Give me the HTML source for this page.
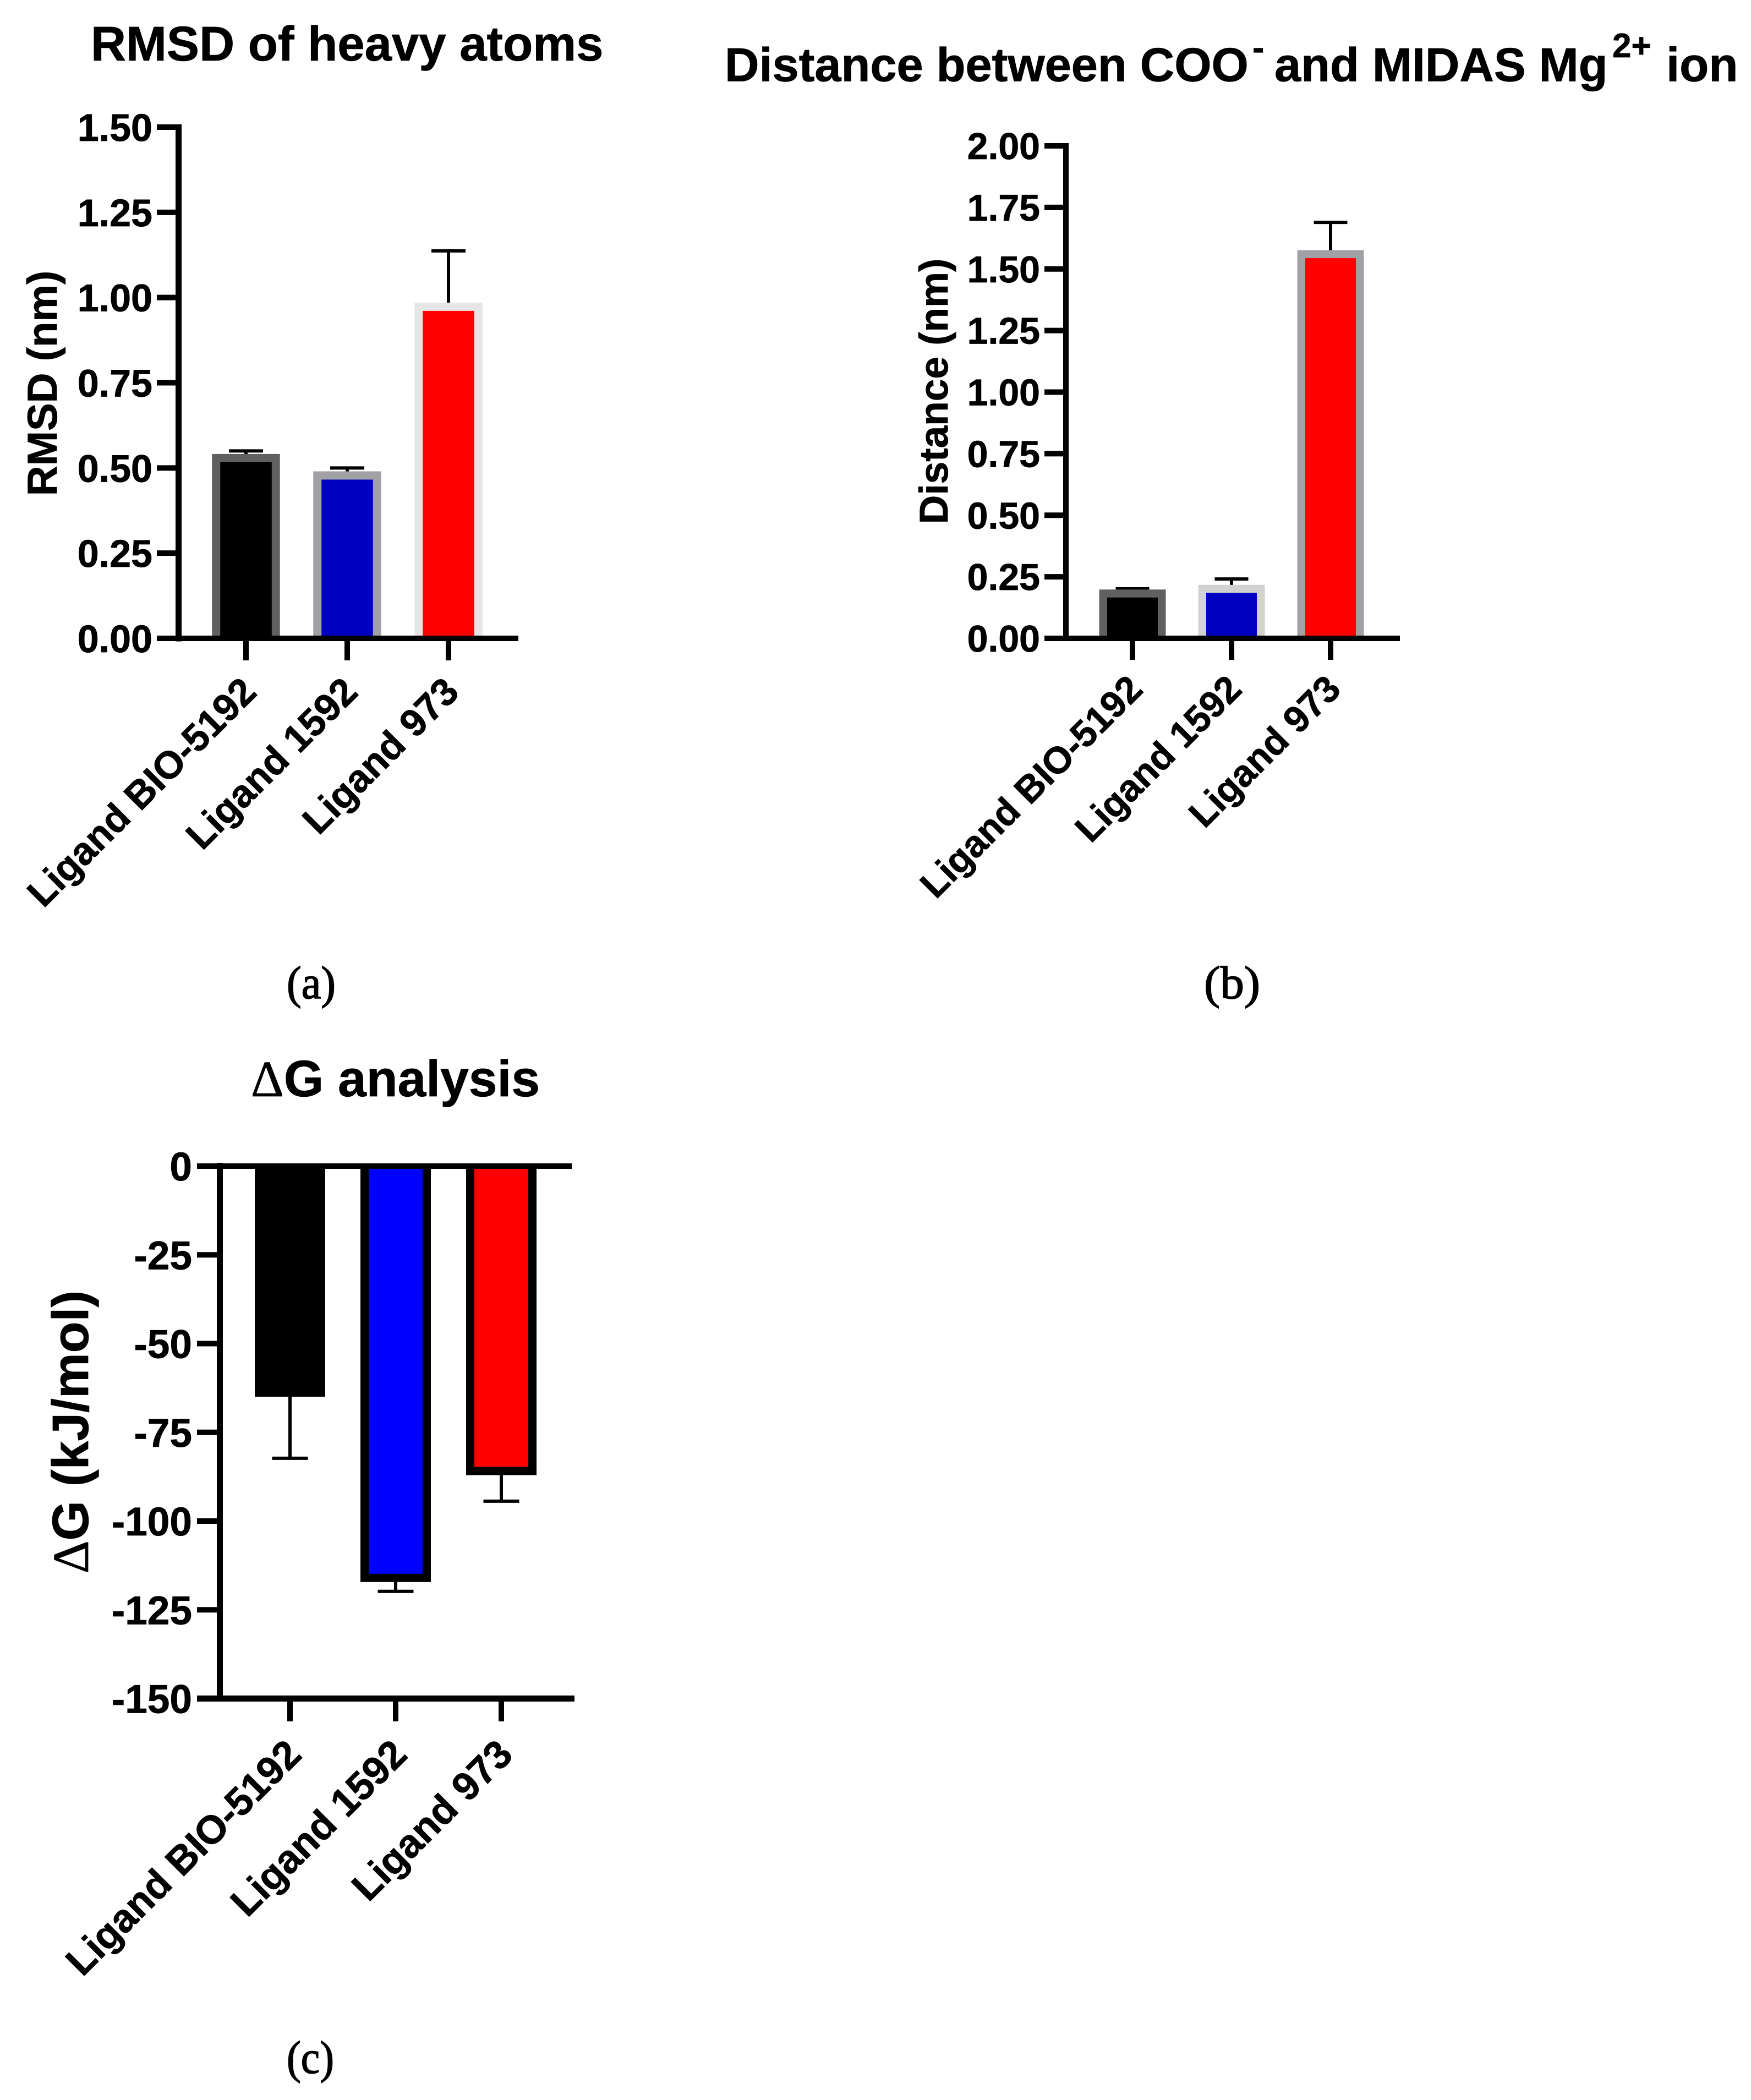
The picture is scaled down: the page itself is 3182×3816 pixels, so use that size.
<!DOCTYPE html>
<html lang="en">
<head>
<meta charset="utf-8">
<title>Ligand analysis bar charts</title>
<style>
  html, body { margin: 0; padding: 0; background: #ffffff; }
  body { width: 3182px; height: 3816px; overflow: hidden; }
  svg { display: block; }
  text { font-family: "Liberation Sans", Arial, sans-serif; font-weight: 700; fill: #000; stroke: #000; stroke-width: 0.8px; text-rendering: geometricPrecision; }
  .caption { font-family: "Liberation Serif", "Times New Roman", serif; font-weight: 400; stroke-width: 1.6px; }
  .delta { font-family: "Liberation Serif", "Times New Roman", serif; font-weight: 400; }
</style>
</head>
<body>
<svg id="figure" xmlns="http://www.w3.org/2000/svg" width="3182" height="3816" viewBox="0 0 3182 3816">
  <rect x="0" y="0" width="3182" height="3816" fill="#ffffff"/>

  <text x="165" y="110" font-size="88.7">RMSD of heavy atoms</text>
  <text x="0" y="0" font-size="76" text-anchor="middle" transform="translate(103 696.5) rotate(-90)">RMSD (nm)</text>
  <text class="caption" x="521" y="1814" font-size="84" textLength="89" lengthAdjust="spacingAndGlyphs">(a)</text>

  <g font-size="87">
    <text x="1317" y="147.5" font-size="86.5">Distance between COO</text>
    <text x="2276" y="108" font-size="64">-</text>
    <text x="2316" y="147.5" font-size="86.5">and MIDAS Mg</text>
    <text x="2930" y="104" font-size="62">2+</text>
    <text x="3028" y="147.5" font-size="87">ion</text>
  </g>
  <text x="0" y="0" font-size="73" text-anchor="middle" transform="translate(1722 711) rotate(-90)">Distance (nm)</text>
  <text class="caption" x="2188" y="1814" font-size="84" textLength="102" lengthAdjust="spacingAndGlyphs">(b)</text>

  <text x="456" y="1992" font-size="93"><tspan class="delta">Δ</tspan>G analysis</text>
  <text x="0" y="0" font-size="93" text-anchor="middle" transform="translate(160 2602) rotate(-90)"><tspan class="delta">Δ</tspan>G (kJ/mol)</text>
  <text class="caption" x="521" y="3767" font-size="84" textLength="86" lengthAdjust="spacingAndGlyphs">(c)</text>

  <g id="chart-a"></g>
  <g id="chart-b"></g>
  <g id="chart-c"></g>
</svg>

<script>
// Shared categories
const categories = ["Ligand BIO-5192", "Ligand 1592", "Ligand 973"];

// Chart (a): RMSD of heavy atoms
const rmsdValues = [0.529, 0.478, 0.973];
const rmsdErrorEnds = [0.550, 0.500, 1.137];
const rmsdTickValues = [0, 0.25, 0.5, 0.75, 1, 1.25, 1.5];
const rmsdTickLabels = ["0.00", "0.25", "0.50", "0.75", "1.00", "1.25", "1.50"];

// Chart (b): Distance between COO- and MIDAS Mg2+ ion
const distanceValues = [0.182, 0.201, 1.560];
const distanceErrorEnds = [0.201, 0.241, 1.689];
const distanceTickValues = [0, 0.25, 0.5, 0.75, 1, 1.25, 1.5, 1.75, 2];
const distanceTickLabels = ["0.00", "0.25", "0.50", "0.75", "1.00", "1.25", "1.50", "1.75", "2.00"];

// Chart (c): Delta G analysis
const deltaGValues = [-63.8, -116, -85.9];
const deltaGErrorEnds = [-82.3, -119.8, -94.4];
const deltaGTickValues = [0, -25, -50, -75, -100, -125, -150];
const deltaGTickLabels = ["0", "-25", "-50", "-75", "-100", "-125", "-150"];

const SVG_NS = "http://www.w3.org/2000/svg";

function make(parent, tag, attrs, text) {
  const el = document.createElementNS(SVG_NS, tag);
  for (const key in attrs) el.setAttribute(key, attrs[key]);
  if (text !== undefined) el.textContent = text;
  parent.appendChild(el);
  return el;
}

function drawChart(root, prefix, layout, values, errorEnds, tickValues, tickLabels) {
  // Axis functions
  const yScale = function (v) {
    return layout.yAtZero + (v / layout.domainSpan) * layout.pixelSpan;
  };
  const xScale = function (i) {
    return layout.xStart + i * layout.xStep;
  };

  // Error bars sit beneath the bars
  values.forEach(function (value, i) {
    const c = xScale(i);
    const stem = make(root, "line", {
      x1: c, x2: c, y1: yScale(value), y2: yScale(errorEnds[i]),
      stroke: "#000", "stroke-width": 6
    });
    
    
    const cap = make(root, "line", {
      x1: c - layout.capWidth / 2, x2: c + layout.capWidth / 2,
      y1: yScale(errorEnds[i]), y2: yScale(errorEnds[i]),
      stroke: "#000", "stroke-width": 6
    });
    
    
  });

  // Bars: open at the baseline so the border does not overshoot the axis
  values.forEach(function (value, i) {
    const c = xScale(i);
    const yValue = yScale(value);
    const yBase = yScale(0);
    const left = c - layout.barWidth / 2;
    const right = c + layout.barWidth / 2;
    const bar = make(root, "path", {
      d: "M" + left + " " + yBase + " L" + left + " " + yValue + " L" + right + " " + yValue + " L" + right + " " + yBase,
      fill: layout.fills[i],
      stroke: layout.borders[i],
      "stroke-width": layout.barStroke
    });
    
    
  });

  // Y axis ticks and labels
  tickValues.forEach(function (v, i) {
    const y = yScale(v);
    const tick = make(root, "line", {
      x1: layout.tickLeft, x2: layout.yAxisX, y1: y, y2: y,
      stroke: "#000", "stroke-width": layout.tickWidth
    });
    
    
    const label = make(root, "text", {
      x: layout.labelRight, y: y + layout.labelDrop,
      "font-size": layout.tickFont, "text-anchor": "end"
    }, tickLabels[i]);
    
    
  });

  // Axis lines
  const yAxis = make(root, "line", {
    x1: layout.yAxisX, x2: layout.yAxisX, y1: layout.yAxisTop, y2: layout.yAxisBottom,
    stroke: "#000", "stroke-width": layout.yAxisWidth
  });
  
  

  const xAxis = make(root, "line", {
    x1: layout.tickLeft, x2: layout.xAxisRight, y1: layout.xAxisY, y2: layout.xAxisY,
    stroke: "#000", "stroke-width": layout.xAxisWidth
  });
  
  

  // X axis ticks and rotated category labels
  categories.forEach(function (name, i) {
    const c = xScale(i);
    const tick = make(root, "line", {
      x1: c, x2: c, y1: layout.xAxisY, y2: layout.xTickBottom,
      stroke: "#000", "stroke-width": 10
    });
    
    
    const lx = c + layout.catOffsetX;
    const ly = layout.catY;
    const label = make(root, "text", {
      x: 0, y: 0, "font-size": layout.catFont, "text-anchor": "end",
      transform: "translate(" + lx + " " + ly + ") rotate(-45)"
    }, name);
    
    
  });
}

drawChart(document.getElementById("chart-a"), "chart-a", {
  yAtZero: 1160, domainSpan: 1.5, pixelSpan: -929,
  xStart: 447, xStep: 184,
  barWidth: 108.5, barStroke: 15, capWidth: 62,
  fills: ["#000000", "#0000c0", "#ff0000"],
  borders: ["#606060", "#a0a0a5", "#e6e6e6"],
  tickLeft: 285, yAxisX: 324.5, yAxisTop: 226, yAxisBottom: 1165.5, yAxisWidth: 11,
  tickWidth: 10, labelRight: 277, labelDrop: 25, tickFont: 70,
  xAxisRight: 942, xAxisY: 1160, xAxisWidth: 10, xTickBottom: 1200,
  catOffsetX: 22.5, catY: 1261, catFont: 70
}, rmsdValues, rmsdErrorEnds, rmsdTickValues, rmsdTickLabels);

drawChart(document.getElementById("chart-b"), "chart-b", {
  yAtZero: 1160, domainSpan: 2, pixelSpan: -895,
  xStart: 2058, xStep: 180,
  barWidth: 106.5, barStroke: 14.5, capWidth: 61,
  fills: ["#000000", "#0000c0", "#ff0000"],
  borders: ["#606060", "#d2d2d2", "#a0a0a5"],
  tickLeft: 1898, yAxisX: 1937, yAxisTop: 260, yAxisBottom: 1165, yAxisWidth: 10,
  tickWidth: 10, labelRight: 1890, labelDrop: 24, tickFont: 68,
  xAxisRight: 2544, xAxisY: 1160, xAxisWidth: 10, xTickBottom: 1199,
  catOffsetX: 22, catY: 1256, catFont: 68
}, distanceValues, distanceErrorEnds, distanceTickValues, distanceTickLabels);

drawChart(document.getElementById("chart-c"), "chart-c", {
  yAtZero: 2119, domainSpan: -150, pixelSpan: 967.5,
  xStart: 527, xStep: 192,
  barWidth: 113, barStroke: 15, capWidth: 65,
  fills: ["#000000", "#0000ff", "#ff0000"],
  borders: ["#000000", "#000000", "#000000"],
  tickLeft: 358, yAxisX: 399.5, yAxisTop: 2113, yAxisBottom: 3092, yAxisWidth: 11,
  tickWidth: 10, labelRight: 349, labelDrop: 26, tickFont: 73,
  xAxisRight: 1044, xAxisY: 3086.5, xAxisWidth: 11, xTickBottom: 3128,
  catOffsetX: 24.5, catY: 3192, catFont: 72
}, deltaGValues, deltaGErrorEnds, deltaGTickValues, deltaGTickLabels);

// Chart (c) has its zero baseline at the top of the plot
const zeroLine = make(document.getElementById("chart-c"), "line", {
  x1: 358, x2: 1039, y1: 2119, y2: 2119, stroke: "#000", "stroke-width": 10
});


</script>
</body>
</html>
